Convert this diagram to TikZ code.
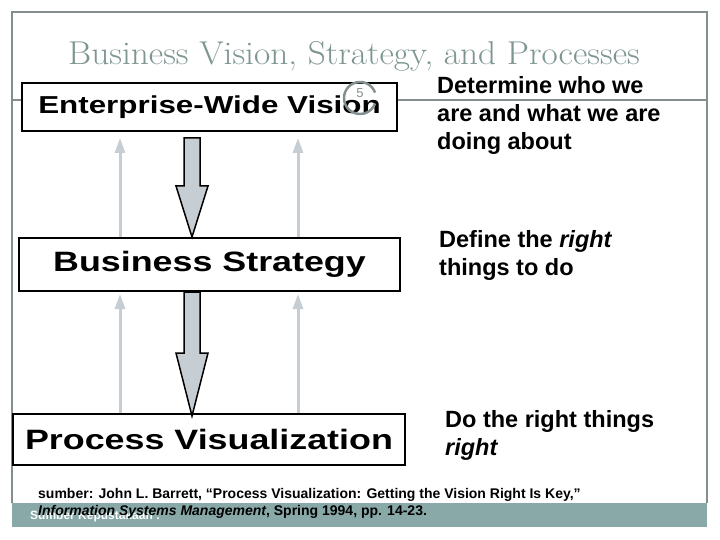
\documentclass[tikz,border=0pt]{standalone}
\usepackage{fontspec}
\newfontfamily\arialfont{Liberation Sans}
\usetikzlibrary{calc,arrows.meta}
\definecolor{titlegray}{HTML}{7E9692}
\definecolor{framegray}{HTML}{858F8F}
\definecolor{barteal}{HTML}{89A9A9}
\definecolor{liftgray}{HTML}{C6CED4}
\newcommand\widen[1]{\scalebox{1.28}[1]{#1}}
\begin{document}
\begin{tikzpicture}[x=1pt,y=-1pt,
    levelbox/.style={draw, line width=2pt, fill=white, inner sep=0pt},
    sidenote/.style={anchor=base west, align=left, inner sep=0pt,
      font=\arialfont\bfseries\fontsize{23.5}{28}\selectfont},
    citeline/.style={anchor=base west, inner sep=0pt,
      font=\arialfont\bfseries\fontsize{14}{16}\selectfont},
    liftarrow/.style={draw=liftgray, line width=3pt,
      -{Triangle[width=10pt,length=15pt]}},
    pushdown/.style={draw=black, fill=liftgray, line width=1.5pt, line join=miter}]
  \useasboundingbox (0,0) rectangle (720,540);
  \fill[white] (0,0) rectangle (720,540);
  % frame and rule
  \draw[framegray, line width=1.5pt] (12,503) -- (12,12) -- (707,12) -- (707,503);
  \draw[framegray, line width=1.2pt] (12,100) -- (707,100);
  \fill[barteal] (12,503) rectangle (707,527);
  \node[text=titlegray, font=\fontsize{33}{37}\selectfont, anchor=base]
    (title) at (354,65) {\scalebox{1.07}[1]{Business Vision, Strategy, and Processes}};
  % the three levels
  \node[levelbox, minimum width=375, minimum height=48,
    font=\arialfont\bfseries\fontsize{24.5}{28}\selectfont]
    (vision) at (209.5,107) {\widen{Enterprise-Wide Vision}};
  \node[levelbox, minimum width=381, minimum height=53,
    font=\arialfont\bfseries\fontsize{28}{32}\selectfont]
    (strategy) at (209.5,264.5) {\widen{Business Strategy}};
  \node[levelbox, minimum width=392, minimum height=51,
    font=\arialfont\bfseries\fontsize{28}{32}\selectfont]
    (process) at (209,439.5) {\widen{Process Visualization}};
  % slide number
  \draw[framegray, line width=2.5pt] (360,98) ++(20:16) arc[start angle=20, end angle=340, radius=16];
  \node[text=framegray, font=\arialfont\fontsize{13}{15}\selectfont] (slideno) at (360,93) {5};
  % arrows between levels
  \coordinate (v) at ($(vision.south)+(-17.5,6)$);
  \coordinate (s) at (strategy.north -| v);
  \coordinate (b) at (strategy.south -| v);
  \coordinate (p) at ($(process.north -| v)+(0,3)$);
  \draw[pushdown] ($(v)+(-8,0)$) -- ($(v)+(8,0)$) -- ($(s)+(8,-51)$) -- ($(s)+(16,-51)$)
    -- (s) -- ($(s)+(-16,-51)$) -- ($(s)+(-8,-51)$) -- cycle;
  \draw[pushdown] ($(b)+(-8,0)$) -- ($(b)+(8,0)$) -- ($(p)+(8,-63)$) -- ($(p)+(16,-63)$)
    -- (p) -- ($(p)+(-16,-63)$) -- ($(p)+(-8,-63)$) -- cycle;
  \begin{scope}
    \draw[liftarrow] ($(strategy.north)+(-89.5,0)$) to ($(vision.south)+(-89.5,6)$);
    \draw[liftarrow] ($(strategy.north)+(88.5,0)$) to ($(vision.south)+(88.5,6)$);
    \draw[liftarrow] ($(process.north)+(-89,0)$) to ($(strategy.south)+(-89.5,2)$);
    \draw[liftarrow] ($(process.north)+(89,0)$) to ($(strategy.south)+(88.5,2)$);
  \end{scope}
  % notes on the right (base = last line)
  \node[sidenote] (whowe) at (437,149.5) {Determine who we\\are and what we are\\doing about};
  \node[sidenote] (rightthings) at (439,275) {Define the \textit{right}\\things to do};
  \node[sidenote] (doright) at (445,455) {Do the right things\\\textit{right}};
  % source
  \node[citeline, text=white, font=\arialfont\bfseries\fontsize{12}{14}\selectfont]
    (kepustakaan) at (30,519) {Sumber Kepustakaan :};
  \node[citeline] (cite1) at (38,498)
    {sumber: John L. Barrett, “Process Visualization: Getting the Vision Right Is Key,”};
  \node[citeline] (cite2) at (38,515)
    {\textit{Information Systems Management}, Spring 1994, pp. 14-23.};
\end{tikzpicture}
\end{document}
